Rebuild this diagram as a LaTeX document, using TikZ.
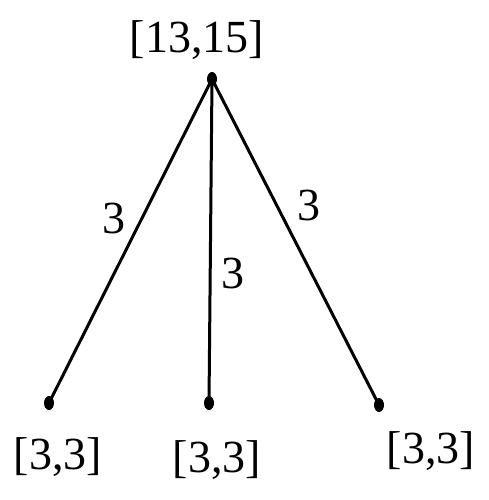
\documentclass[tikz,border=0pt]{standalone}
\usepackage{fontspec}
\setmainfont{Liberation Serif}
\usetikzlibrary{shapes.geometric}
\begin{document}
\begin{tikzpicture}[x=1pt,y=-1pt,
  vtx/.style={ellipse,fill=black,inner sep=0pt,minimum width=10pt,minimum height=14pt},
  lbl/.style={font=\fontsize{46}{50}\selectfont,inner sep=0pt},
  elbl/.style={font=\fontsize{46}{50}\selectfont,inner sep=0pt},
  edge/.style={line width=3pt}]
\useasboundingbox (0,0) rectangle (489,500);
\node[vtx] (r) at (212,79) {};
\node[vtx] (a) at (49,403) {};
\node[vtx] (b) at (209,403) {};
\node[vtx] (c) at (379,405) {};
\node[lbl] (rl) at (197,40) {[13,15]};
\node[lbl] (al) at (58,457) {[3,3]};
\node[lbl] (bl) at (217,460) {[3,3]};
\node[lbl] (cl) at (431,451) {[3,3]};
\draw[edge] (r.center) -- (a.center);
\draw[edge] (r.center) -- (b.center);
\draw[edge] (r.center) -- (c.center);
\node[elbl] (e1) at (114,218) {3};
\node[elbl] (e2) at (233,273) {3};
\node[elbl] (e3) at (309,205) {3};
\end{tikzpicture}
\end{document}
